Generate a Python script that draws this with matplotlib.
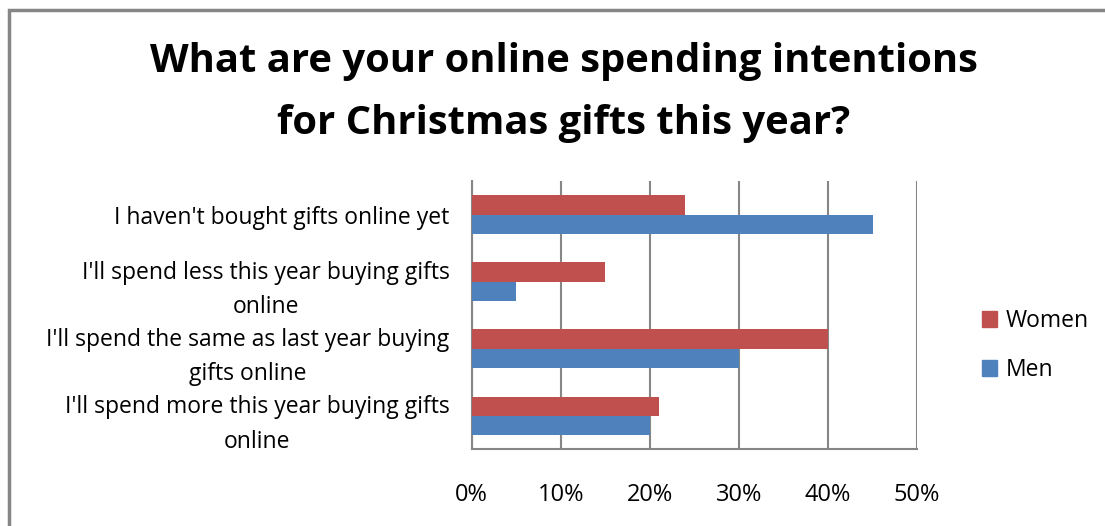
import matplotlib
matplotlib.use('Agg')
import matplotlib.pyplot as plt
from matplotlib.patches import Rectangle, Patch
import numpy as np

# categories listed bottom to top, as drawn on the chart
categories = ["I'll spend more this year buying gifts\nonline",
              "I'll spend the same as last year buying\ngifts online",
              "I'll spend less this year buying gifts\nonline",
              "I haven't bought gifts online yet"]
men = [20, 30, 5, 45]
women = [21, 40, 15, 24]
xticks = [0, 10, 20, 30, 40, 50]

plt.rcParams['font.family'] = ['Open Sans', 'DejaVu Sans']

fig = plt.figure(figsize=(11.05, 5.26), dpi=100)
ax = fig.add_axes([0.4269, 0.1458, 0.4030, 0.5101])

# outer chart border (only top and left edges visible in the crop)
fig.patches.append(Rectangle((0.0081, -0.05), 1.2, 1.031, transform=fig.transFigure,
                             fill=False, edgecolor='#868686', linewidth=2.5))

y = np.arange(len(categories))
h = 0.287
ax.barh(y - h/2, men, height=h, color='#4F81BD', label='Men', zorder=3)
ax.barh(y + h/2, women, height=h, color='#C0504D', label='Women', zorder=3)

ax.set_xlim(0, 50)
ax.set_ylim(-0.5, 3.5)
ax.set_xticks(xticks)
ax.set_xticklabels([str(v) + '%' for v in xticks], fontsize=17)
ax.set_yticks(y)
ax.set_yticklabels(categories, fontsize=16.5, multialignment='center', linespacing=1.6)
ax.tick_params(axis='x', length=0, pad=24)
ax.tick_params(axis='y', length=0, pad=16)
ax.grid(axis='x', color='#868686', linewidth=1.5, zorder=0)
for side in ['top', 'right']:
    ax.spines[side].set_visible(False)
for side in ['left', 'bottom']:
    ax.spines[side].set_color('#868686')
    ax.spines[side].set_linewidth(1.5)

fig.text(0.51, 0.824, 'What are your online spending intentions\nfor Christmas gifts this year?',
         ha='center', va='center', fontsize=28.8, fontweight='bold', linespacing=1.78)

handles = [Patch(color='#C0504D'), Patch(color='#4F81BD')]
fig.legend(handles, ['Women', 'Men'], loc='center left', bbox_to_anchor=(0.870, 0.343),
           frameon=False, fontsize=16.5, handlelength=0.65, handleheight=0.65,
           handletextpad=0.4, labelspacing=1.1)

fig.savefig('out.png', dpi=100)
